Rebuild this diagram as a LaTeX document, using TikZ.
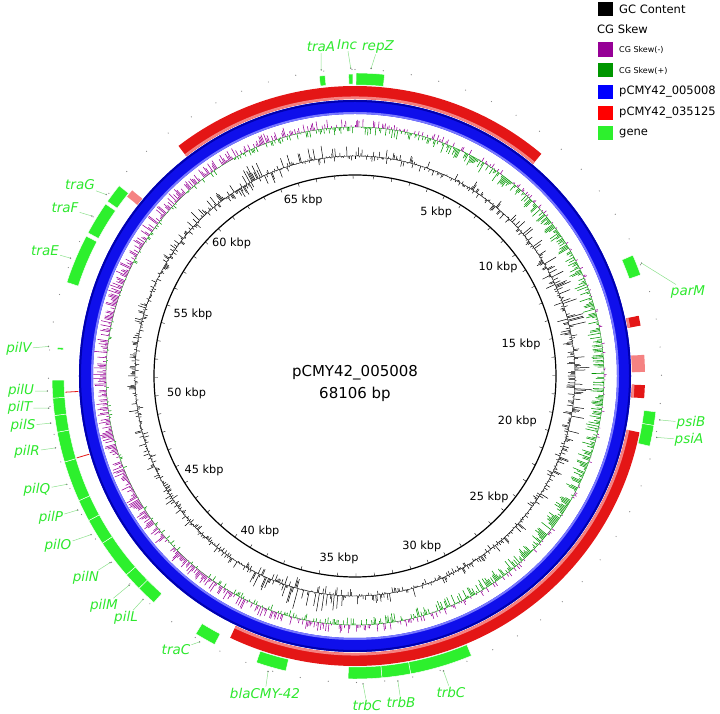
\documentclass[tikz,border=0pt]{standalone}
\usepackage{fontspec}
\setmainfont{DejaVu Sans}
\definecolor{geneg}{RGB}{45,240,45}
\definecolor{genelab}{RGB}{45,232,45}
\definecolor{leadc}{RGB}{140,225,140}
\definecolor{ringblue}{RGB}{15,15,235}
\definecolor{ringbluelt}{RGB}{120,120,255}
\definecolor{ringbluedk}{RGB}{0,0,175}
\definecolor{ringred}{RGB}{228,22,22}
\definecolor{ringredlt}{RGB}{245,130,130}
\definecolor{skewneg}{RGB}{150,0,150}
\definecolor{skewpos}{RGB}{0,150,0}
\newcommand\Sect[5]{\path[#5] ({90-(#1)}:#3) arc[start angle={90-(#1)}, end angle={90-(#2)}, radius=#3] -- ({90-(#2)}:#4) arc[start angle={90-(#2)}, end angle={90-(#1)}, radius=#4] -- cycle;}
\newcommand\RedArc[3]{%
  \draw[#3, line width=13pt] ({90-(#1)}:283.5) arc[start angle={90-(#1)}, end angle={90-(#2)}, radius=283.5];
  \draw[ringredlt, line width=2.5pt] ({90-(#1)}:278.3) arc[start angle={90-(#1)}, end angle={90-(#2)}, radius=278.3];}
\tikzset{
  gene/.style={fill=geneg, draw=white, line width=0.45pt},
  glabel/.style={text=genelab, font=\fontsize{13.5}{14}\selectfont\itshape, inner sep=1pt},
  leader/.style={draw=leadc, line width=0.5pt},
  enddot/.style={fill=black!60},
  ticklab/.style={font=\fontsize{11.3}{12}\selectfont, inner sep=0pt},
  legt/.style={font=\fontsize{11.5}{12}\selectfont, inner sep=0pt, anchor=west},
  legs/.style={font=\fontsize{8}{9}\selectfont, inner sep=0pt, anchor=west},
  gcbar/.style={black, line width=0.5pt},
  negbar/.style={skewneg, line width=0.55pt},
  posbar/.style={skewpos, line width=0.55pt}
}
\begin{document}
\begin{tikzpicture}[x=1pt,y=1pt]
\useasboundingbox (-355,-338) rectangle (365,376);

% 1 kbp dots outside the gene track
\foreach \k in {0,...,68}{\fill[black!50] ({90-\k*5.28588}:306.5) circle[radius=0.6];}

% genes
\Sect{353.2}{354.3}{292}{302}{gene}   % traA
\Sect{358.8}{359.6}{292}{302}{gene}   % Inc
\Sect{0.2}{5.6}{291}{303}{gene}       % repZ
\Sect{66.5}{70.5}{291}{303}{gene}     % parM
\Sect{96.8}{99.4}{291}{303}{gene}     % psiB
\Sect{99.4}{103.4}{291}{303}{gene}    % psiA
\Sect{157.4}{169.4}{291}{303}{gene}   % trbC
\Sect{169.4}{174.9}{291}{303}{gene}   % trbB
\Sect{174.9}{181.3}{291}{303}{gene}   % trbC
\Sect{193.2}{199}{291}{303}{gene}     % blaCMY-42
\Sect{207.6}{211.7}{291}{303}{gene}   % traC
\Sect{221.6}{225.5}{291}{303}{gene}   % pilL
\Sect{225.5}{229}{291}{303}{gene}     % pilM
\Sect{229}{236.5}{291}{303}{gene}     % pilN
\Sect{236.5}{241.5}{291}{303}{gene}   % pilO
\Sect{241.5}{245.7}{291}{303}{gene}   % pilP
\Sect{245.7}{253.5}{291}{303}{gene}   % pilQ
\Sect{253.5}{259.3}{291}{303}{gene}   % pilR
\Sect{259.3}{262.5}{291}{303}{gene}   % pilS
\Sect{262.5}{265.8}{291}{303}{gene}   % pilT
\Sect{265.8}{269.2}{291}{303}{gene}   % pilU
\Sect{275.1}{275.5}{293}{299}{gene}   % pilV
\Sect{288}{297.5}{291}{303}{gene}     % traE
\Sect{298.2}{304.6}{291}{303}{gene}   % traF
\Sect{305.2}{308.9}{291}{303}{gene}   % traG

% pCMY42_035125 ring (red)
\RedArc{322.5}{400}{ringred}
\RedArc{78}{80}{ringred}
\RedArc{85.8}{89.2}{ringredlt}
\RedArc{91.8}{94.4}{ringred}
\RedArc{101.2}{205.5}{ringred}
\RedArc{308.2}{309.8}{ringredlt}
\draw[ringred, line width=0.8pt] ({90-266.8}:277) -- ({90-266.8}:290);
\draw[ringred, line width=0.8pt] ({90-253.6}:277) -- ({90-253.6}:290);

% pCMY42_005008 ring (blue)
\draw[ringblue, line width=14pt] (0,0) circle[radius=269];
\draw[ringbluedk, line width=2pt] (0,0) circle[radius=275];
\draw[ringbluelt, line width=2pt] (0,0) circle[radius=263];

% GC content and CG skew
\pgfmathsetseed{2718}
\draw[black, line width=0.35pt] (0,0) circle[radius=220];
\draw[skewpos, line width=0.35pt] (0,0) circle[radius=249];
\foreach \i in {0,...,1199}{
  \pgfmathsetmacro\t{\i*0.3}
  \pgfmathsetmacro\a{90-\t}
  \pgfmathsetmacro\da{(\t-80)/28}
  \pgfmathsetmacro\db{(\t-195)/12}
  \pgfmathsetmacro\dc{(\t-335)/18}
  \pgfmathsetmacro\amp{6+8*exp(-\da*\da)+9*exp(-\db*\db)+7*exp(-\dc*\dc)}
  \pgfmathsetmacro\u{rand}
  \pgfmathsetmacro\g{\amp*\u*abs(\u)*ifthenelse(\u>0,1.4,0.8)+1.5*rand}
  \draw[gcbar] (\a:220) -- (\a:{220+\g});
  \pgfmathsetmacro\k{0.45*sin(\t)+0.75*rand}
  \pgfmathsetmacro\kp{11*max(\k,0)}
  \pgfmathsetmacro\kn{11*max(-\k,0)}
  \draw[posbar] (\a:249) -- (\a:{249-\kp});
  \draw[negbar] (\a:249) -- (\a:{249+\kn});
}

% inner scale circle
\draw[black, line width=1.2pt] (0,0) circle[radius=201];
\foreach \k in {1,...,68}{\draw[black, line width=0.4pt] ({90-\k*5.28588}:200.5) -- ({90-\k*5.28588}:197.5);}
\foreach \k in {5,10,...,65}{
  \pgfmathsetmacro\a{90-\k*5.28588}
  \pgfmathtruncatemacro\an{mod(\a+720,360)}
  \node[ticklab, anchor=\an] (tick\k) at (\a:189) {\k\ kbp};
}

% centre title
\node[align=center, font=\fontsize{15}{22}\selectfont] (title) at (0,-7) {pCMY42\_005008\\68106 bp};

% leader end points
\foreach \n/\t in {TraA/353.7, Inc/359.2, RepZ/3.0, ParM/68.5, PsiB/98.2, PsiA/101.5,
  TrbCa/163.3, TrbB/172, TrbCb/178.5, Bla/196.4, TraC/210.3,
  PilL/223.5, PilM/227.2, PilN/232.7, PilO/239, PilP/244.2, PilQ/249.4, PilR/256.5,
  PilS/261.2, PilT/264, PilU/267.2, PilV/275.5, TraE/292.5, TraF/301.3, TraG/306.1}{
  \coordinate (e\n) at ({90-\t}:308);
  \fill[enddot] (e\n) circle[radius=0.8];
}

\begin{scope}[shift={(-355,376)}, yscale=-1]
  % gene labels
  \node[glabel] (lTraA) at (321,47) {traA};
  \node[glabel] (lInc) at (347,45) {Inc};
  \node[glabel] (lRepZ) at (378,47) {repZ};
  \node[glabel] (lParM) at (688,292) {parM};
  \node[glabel] (lPsiB) at (691,423) {psiB};
  \node[glabel] (lPsiA) at (689,440) {psiA};
  \node[glabel] (lTrbCa) at (451,692) {trbC};
  \node[glabel] (lTrbB) at (401,702) {trbB};
  \node[glabel] (lTrbCb) at (367,705) {trbC};
  \node[glabel] (lBla) at (265,693) {blaCMY-42};
  \node[glabel] (lTraC) at (176,650) {traC};
  \node[glabel] (lPilL) at (126,618) {pilL};
  \node[glabel] (lPilM) at (104,606) {pilM};
  \node[glabel] (lPilN) at (86,578) {pilN};
  \node[glabel] (lPilO) at (58,546) {pilO};
  \node[glabel] (lPilP) at (51,518) {pilP};
  \node[glabel] (lPilQ) at (37,490) {pilQ};
  \node[glabel] (lPilR) at (27,452) {pilR};
  \node[glabel] (lPilS) at (23,426) {pilS};
  \node[glabel] (lPilT) at (20,408) {pilT};
  \node[glabel] (lPilU) at (21,391) {pilU};
  \node[glabel] (lPilV) at (19,349) {pilV};
  \node[glabel] (lTraE) at (45,251) {traE};
  \node[glabel] (lTraF) at (65,208) {traF};
  \node[glabel] (lTraG) at (80,185) {traG};
  % legend
  \fill[black] (598,2) rectangle (613,16);
  \node[legt] (lgGC) at (619,9) {GC Content};
  \node[legt] (lgCG) at (597,29) {CG Skew};
  \fill[skewneg] (598,42) rectangle (613,57);
  \node[legs] (lgN) at (619,50) {CG Skew(-)};
  \fill[skewpos] (598,63) rectangle (613,77);
  \node[legs] (lgP) at (619,71) {CG Skew(+)};
  \fill[blue] (598,85) rectangle (613,99);
  \node[legt] (lgB) at (619,92) {pCMY42\_005008};
  \fill[red] (598,106) rectangle (613,120);
  \node[legt] (lgR) at (619,113) {pCMY42\_035125};
  \fill[geneg] (598,126) rectangle (613,140);
  \node[legt] (lgG) at (619,133) {gene};
\end{scope}

% leader lines
\foreach \n in {TraA, Inc, RepZ, ParM, PsiB, PsiA, TrbCa, TrbB, TrbCb, Bla, TraC,
  PilL, PilM, PilN, PilO, PilP, PilQ, PilR, PilS, PilT, PilU, PilV, TraE, TraF, TraG}{
  \draw[leader] (l\n) -- (e\n);
}
\end{tikzpicture}
\end{document}
